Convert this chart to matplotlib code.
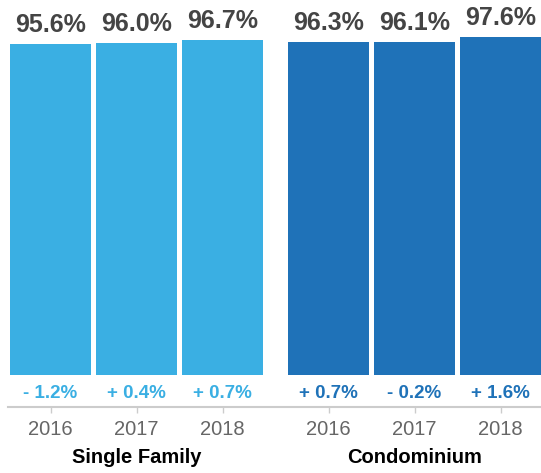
import matplotlib.pyplot as plt

years = ['2016', '2017', '2018']
groups = ['Single Family', 'Condominium']
single_family = [95.6, 96.0, 96.7]
condominium = [96.3, 96.1, 97.6]
sf_change = ['- 1.2%', '+ 0.4%', '+ 0.7%']
condo_change = ['+ 0.7%', '- 0.2%', '+ 1.6%']

LIGHT = '#3AAFE3'
DARK = '#1F72B8'

plt.rcParams['font.family'] = ['Liberation Sans', 'DejaVu Sans']

fig = plt.figure(figsize=(5.41, 4.73), dpi=100)
ax = fig.add_axes([0, 66 / 473, 1, 407 / 473])

# pixel layout: 86 px per bar slot, extra gap between the two groups
gap = 3.233
x_sf = [0, 1, 2]
x_co = [gap, gap + 1, gap + 2]
width = 0.942

for xs, vals, changes, color in [(x_sf, single_family, sf_change, LIGHT),
                                  (x_co, condominium, condo_change, DARK)]:
    ax.bar(xs, vals, width=width, color=color)
    for x, v, c in zip(xs, vals, changes):
        ax.annotate(f'{v:.1f}%', (x, v), xytext=(0, 8.6), textcoords='offset points',
                    ha='center', va='baseline', fontsize=18, fontweight='bold',
                    color='#444444')
        ax.annotate(c, (x, 0), xytext=(0, -13), textcoords='offset points',
                    ha='center', va='center', fontsize=13.5, fontweight='bold',
                    color=color)

for xc, name in [(1, groups[0]), (gap + 1, groups[1])]:
    ax.annotate(name, (xc, 0), xycoords=('data', 'axes fraction'),
                xytext=(0, -36.7), textcoords='offset points',
                ha='center', va='center', fontsize=14.5, fontweight='bold',
                color='black')

ax.set_xlim(-50.5 / 86, (541 - 50.5) / 86)
ax.set_ylim(-32 / 3.462, 375 / 3.462)
ax.set_xticks(x_sf + x_co)
ax.set_xticklabels(years + years)
ax.tick_params(axis='x', length=4.3, width=1, color='#cccccc', labelsize=14.5,
               labelcolor='#666666', pad=5)
ax.set_yticks([])
for side in ['top', 'left', 'right']:
    ax.spines[side].set_visible(False)
ax.spines['bottom'].set_color('#cccccc')
ax.spines['bottom'].set_linewidth(1.5)
ax.spines['bottom'].set_bounds(-0.5, (541 - 50.5) / 86)

fig.savefig('out.png', dpi=100)
